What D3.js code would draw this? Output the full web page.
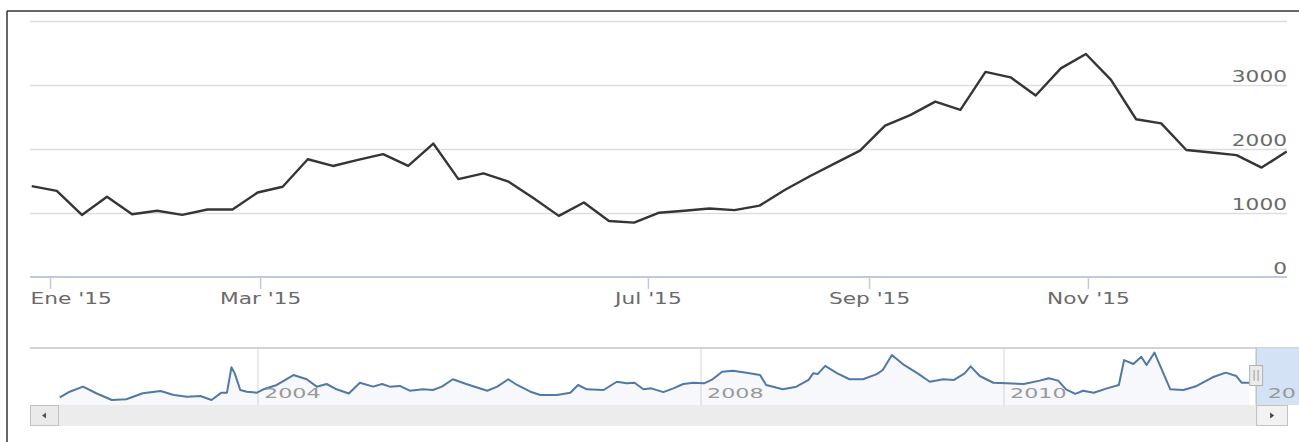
<!DOCTYPE html>
<html>
<head>
<meta charset="utf-8">
<script src="https://cdnjs.cloudflare.com/ajax/libs/d3/7.8.5/d3.min.js"></script>
<style>
body { margin: 0; background: #fff; }
svg { display: block; }
text { font-family: "DejaVu Sans", sans-serif; }
</style>
</head>
<body>
<div id="chart-area"></div>
<script>
// weekly values, main chart (2015)
var weeklyValues = [1420, 1345, 970, 1255, 980, 1035, 970, 1055, 1055, 1320,
	1410, 1840, 1735, 1830, 1920, 1735, 2085, 1530, 1620, 1490,
	1230, 955, 1165, 875, 850, 1005, 1035, 1070, 1045, 1115,
	1360, 1575, 1775, 1975, 2365, 2530, 2740, 2610, 3205, 3120,
	2835, 3260, 3485, 3080, 2465, 2400, 1985, 1945, 1905, 1710, 1960];
// x ticks sit between weekly points (ordinal axis)
var xTickIndex = [0.73, 9.1, 24.55, 33.36, 42.08];
var xTickLabels = ["Ene '15", "Mar '15", "Jul '15", "Sep '15", "Nov '15"];
var yTickValues = [0, 1000, 2000, 3000];
var yGridValues = [1000, 2000, 3000, 4000];

// navigator series
var navYears = [2002.21, 2002.30, 2002.42, 2002.54, 2002.68, 2002.81, 2002.96, 2003.12, 2003.24, 2003.36,
	2003.48, 2003.58, 2003.67, 2003.72, 2003.76, 2003.79, 2003.84, 2003.90, 2003.99, 2004.05,
	2004.17, 2004.32, 2004.44, 2004.53, 2004.62, 2004.71, 2004.82, 2004.92, 2005.04, 2005.12,
	2005.19, 2005.28, 2005.37, 2005.49, 2005.58, 2005.66, 2005.76, 2005.88, 2006.07, 2006.16,
	2006.26, 2006.34, 2006.46, 2006.55, 2006.70, 2006.82, 2006.89, 2006.97, 2007.12, 2007.24,
	2007.33, 2007.40, 2007.48, 2007.55, 2007.66, 2007.75, 2007.84, 2007.93, 2008.02, 2008.07,
	2008.14, 2008.21, 2008.30, 2008.39, 2008.43, 2008.54, 2008.63, 2008.71, 2008.74, 2008.77,
	2008.82, 2008.90, 2008.98, 2009.07, 2009.16, 2009.20, 2009.26, 2009.34, 2009.43, 2009.51,
	2009.60, 2009.67, 2009.74, 2009.78, 2009.84, 2009.93, 2010.02, 2010.15, 2010.27, 2010.34,
	2010.41, 2010.47, 2010.54, 2010.60, 2010.68, 2010.78, 2010.87, 2010.91, 2010.98, 2011.04,
	2011.08, 2011.14, 2011.18, 2011.26, 2011.36, 2011.46, 2011.58, 2011.68, 2011.76, 2011.80, 2011.86];
var navValues = [550, 950, 1310, 840, 360, 410, 840, 1000, 710, 590,
	640, 360, 880, 880, 2690, 2260, 1070, 950, 880, 1120,
	1430, 2140, 1840, 1310, 1500, 1120, 820, 1590, 1310, 1500,
	1310, 1360, 1020, 1120, 1070, 1310, 1840, 1500, 1020, 1310,
	1840, 1430, 950, 710, 710, 880, 1430, 1120, 1070, 1660,
	1550, 1590, 1120, 1190, 920, 1190, 1500, 1590, 1550, 1790,
	2380, 2450, 2310, 2140, 1430, 1120, 1310, 1790, 2260, 2210,
	2790, 2260, 1840, 1840, 2210, 2500, 3570, 2860, 2260, 1660,
	1840, 1790, 2260, 2760, 2070, 1590, 1550, 1500, 1740, 1910,
	1740, 1120, 790, 1020, 880, 1190, 1430, 3210, 2930, 3450,
	2860, 3740, 2860, 1120, 1070, 1360, 1980, 2310, 2070, 1590, 1590];
var navTickYears = [2004, 2008, 2010, 2012];
// the last label is cut by the picture edge in the original, only "20" shows
var navTickLabels = ["2004", "2008", "2010", "20"];
var navSelectedFrom = 2011.91;

var width = 1299;
var height = 442;
var plot = { left: 30, right: 1287, top: 21, bottom: 277 };
var nav = { top: 348, bottom: 405, left: 30 };
var scroll = { top: 405, bottom: 426 };

var svg = d3.select("#chart-area")
	.append("svg")
	.attr("width", width)
	.attr("height", height);

// frame
svg.append("line").attr("x1", 7).attr("x2", width).attr("y1", 11).attr("y2", 11)
	.attr("stroke", "#333").attr("stroke-width", 1.5);
svg.append("line").attr("x1", 7).attr("x2", 7).attr("y1", 11).attr("y2", height)
	.attr("stroke", "#333").attr("stroke-width", 1.5);

var xScale = d3.scaleLinear()
	.domain([0, weeklyValues.length - 1])
	.range([31.7, 1286.7]);

var yScale = d3.scaleLinear()
	.domain([0, 4000])
	.range([plot.bottom, plot.top]);

// grid
var grid = svg.append("g")
	.attr("transform", "translate(" + plot.left + ",0)")
	.call(d3.axisRight(yScale).tickValues(yGridValues).tickSize(plot.right - plot.left).tickFormat(""));
grid.select(".domain").remove();
grid.selectAll("line").attr("stroke", "#dedede").attr("stroke-width", 1.5);

// x axis
var xAxisG = svg.append("g")
	.attr("transform", "translate(0," + plot.bottom + ")")
	.call(d3.axisBottom(xScale)
		.tickValues(xTickIndex)
		.tickSizeInner(12)
		.tickSizeOuter(0)
		.tickFormat((d, i) => xTickLabels[i]));
xAxisG.select(".domain")
	.attr("d", "M" + plot.left + ",0H" + plot.right)
	.attr("stroke", "#c0cad8").attr("stroke-width", 2);
xAxisG.selectAll(".tick line").attr("stroke", "#c0cad8").attr("stroke-width", 1.5);
xAxisG.selectAll(".tick text")
	.attr("y", 27).attr("dy", 0)
	.attr("fill", "#6a6a6a")
	.attr("font-size", "15.5px")
	.attr("font-family", "DejaVu Sans, sans-serif")
	.each(function (d) {
		var sx = 1.4;
		var half = this.getComputedTextLength() * sx / 2;
		var cx = xScale(d);
		var shift = 0;
		if (cx - half < plot.left) shift = plot.left - (cx - half);
		d3.select(this).attr("transform", "translate(" + shift + ",0) scale(" + sx + ",1)");
	});

// y axis labels (right side, above grid lines)
var yAxisG = svg.append("g")
	.attr("transform", "translate(" + plot.right + ",0)")
	.call(d3.axisLeft(yScale).tickValues(yTickValues).tickSize(0).tickFormat(d3.format("d")));
yAxisG.select(".domain").remove();
yAxisG.selectAll(".tick text")
	.attr("x", 0).attr("y", -4).attr("dy", 0)
	.attr("fill", "#6a6a6a")
	.attr("font-size", "15.5px")
	.attr("font-family", "DejaVu Sans, sans-serif")
	.attr("transform", "scale(1.4,1)");

// main line
svg.append("clipPath").attr("id", "plot-clip")
	.append("rect")
	.attr("x", plot.left).attr("y", plot.top)
	.attr("width", plot.right - plot.left).attr("height", plot.bottom - plot.top);

var line = d3.line()
	.x((d, i) => xScale(i))
	.y(d => yScale(d));

svg.append("path")
	.datum(weeklyValues)
	.attr("clip-path", "url(#plot-clip)")
	.attr("d", line)
	.attr("fill", "none")
	.attr("stroke", "#353535")
	.attr("stroke-width", 2.4)
	.attr("stroke-linejoin", "round");

// navigator
var navX = d3.scaleLinear()
	.domain(navTickYears)
	.range([258, 701, 1004, 1268]);
var navY = d3.scaleLinear()
	.domain([0, 4000])
	.range([nav.bottom, nav.top + 1]);

svg.append("g").selectAll("line")
	.data(navTickYears)
	.enter().append("line")
	.attr("x1", d => navX(d)).attr("x2", d => navX(d))
	.attr("y1", nav.top).attr("y2", nav.bottom)
	.attr("stroke", "#e4e4e4").attr("stroke-width", 1.5);

var navData = navYears.map((y, i) => ({ year: y, value: navValues[i] }));

svg.append("path")
	.datum(navData)
	.attr("d", d3.area().x(d => navX(d.year)).y0(nav.bottom).y1(d => navY(d.value)))
	.attr("fill", "#4572a7")
	.attr("fill-opacity", 0.05);

svg.append("path")
	.datum(navData)
	.attr("d", d3.line().x(d => navX(d.year)).y(d => navY(d.value)))
	.attr("fill", "none")
	.attr("stroke", "#5278a6")
	.attr("stroke-width", 2)
	.attr("stroke-linejoin", "round");

// navigator top outline
svg.append("line")
	.attr("x1", nav.left).attr("x2", width)
	.attr("y1", nav.top).attr("y2", nav.top)
	.attr("stroke", "#c4c4c4").attr("stroke-width", 1.5);

// selected range mask
var maskX = navX(navSelectedFrom);
svg.append("rect")
	.attr("x", maskX).attr("y", nav.top)
	.attr("width", width - maskX).attr("height", nav.bottom - nav.top)
	.attr("fill", "#d3e2f4");
svg.append("line")
	.attr("x1", maskX).attr("x2", maskX)
	.attr("y1", nav.top).attr("y2", scroll.bottom)
	.attr("stroke", "#b8b8b8").attr("stroke-width", 1.2);

// navigator labels, on top of the mask, kept inside the picture
svg.append("g").selectAll("text")
	.data(navTickYears)
	.enter().append("text")
	.attr("fill", "#999")
	.attr("font-size", "13.5px")
	.text((d, i) => navTickLabels[i])
	.each(function (d) {
		var sx = 1.65;
		var w = this.getComputedTextLength() * sx;
		var x = Math.min(navX(d) + 6, width - 3 - w);
		d3.select(this).attr("transform", "translate(" + x + ",398) scale(" + sx + ",1)");
	});

// scrollbar
svg.append("rect")
	.attr("x", nav.left).attr("y", scroll.top)
	.attr("width", maskX - nav.left).attr("height", scroll.bottom - scroll.top)
	.attr("fill", "#ececec");
svg.append("rect")
	.attr("x", nav.left + 0.5).attr("y", scroll.top + 0.5)
	.attr("width", 28).attr("height", scroll.bottom - scroll.top - 1)
	.attr("fill", "#eaeaea").attr("stroke", "#c2c2c2");
svg.append("path")
	.attr("d", "M" + (nav.left + 12) + "," + 415.5 + "l4,-3v6z")
	.attr("fill", "#555");
svg.append("rect")
	.attr("x", maskX + 0.5).attr("y", scroll.top + 0.5)
	.attr("width", plot.right - maskX).attr("height", scroll.bottom - scroll.top - 1)
	.attr("fill", "#f2f2f2").attr("stroke", "#c2c2c2");
svg.append("path")
	.attr("d", "M" + (maskX + 18) + "," + 415.5 + "l-4,-3v6z")
	.attr("fill", "#444");

// handle
var handle = svg.append("g").attr("transform", "translate(" + maskX + ",0)");
handle.append("rect")
	.attr("x", -6.5).attr("y", 365.5).attr("width", 13).attr("height", 20)
	.attr("fill", "#ebebeb").attr("stroke", "#b2b2b2");
handle.append("path")
	.attr("d", "M-2,370V381M2,370V381")
	.attr("stroke", "#a8a8a8").attr("stroke-width", 1.2);
</script>
</body>
</html>
